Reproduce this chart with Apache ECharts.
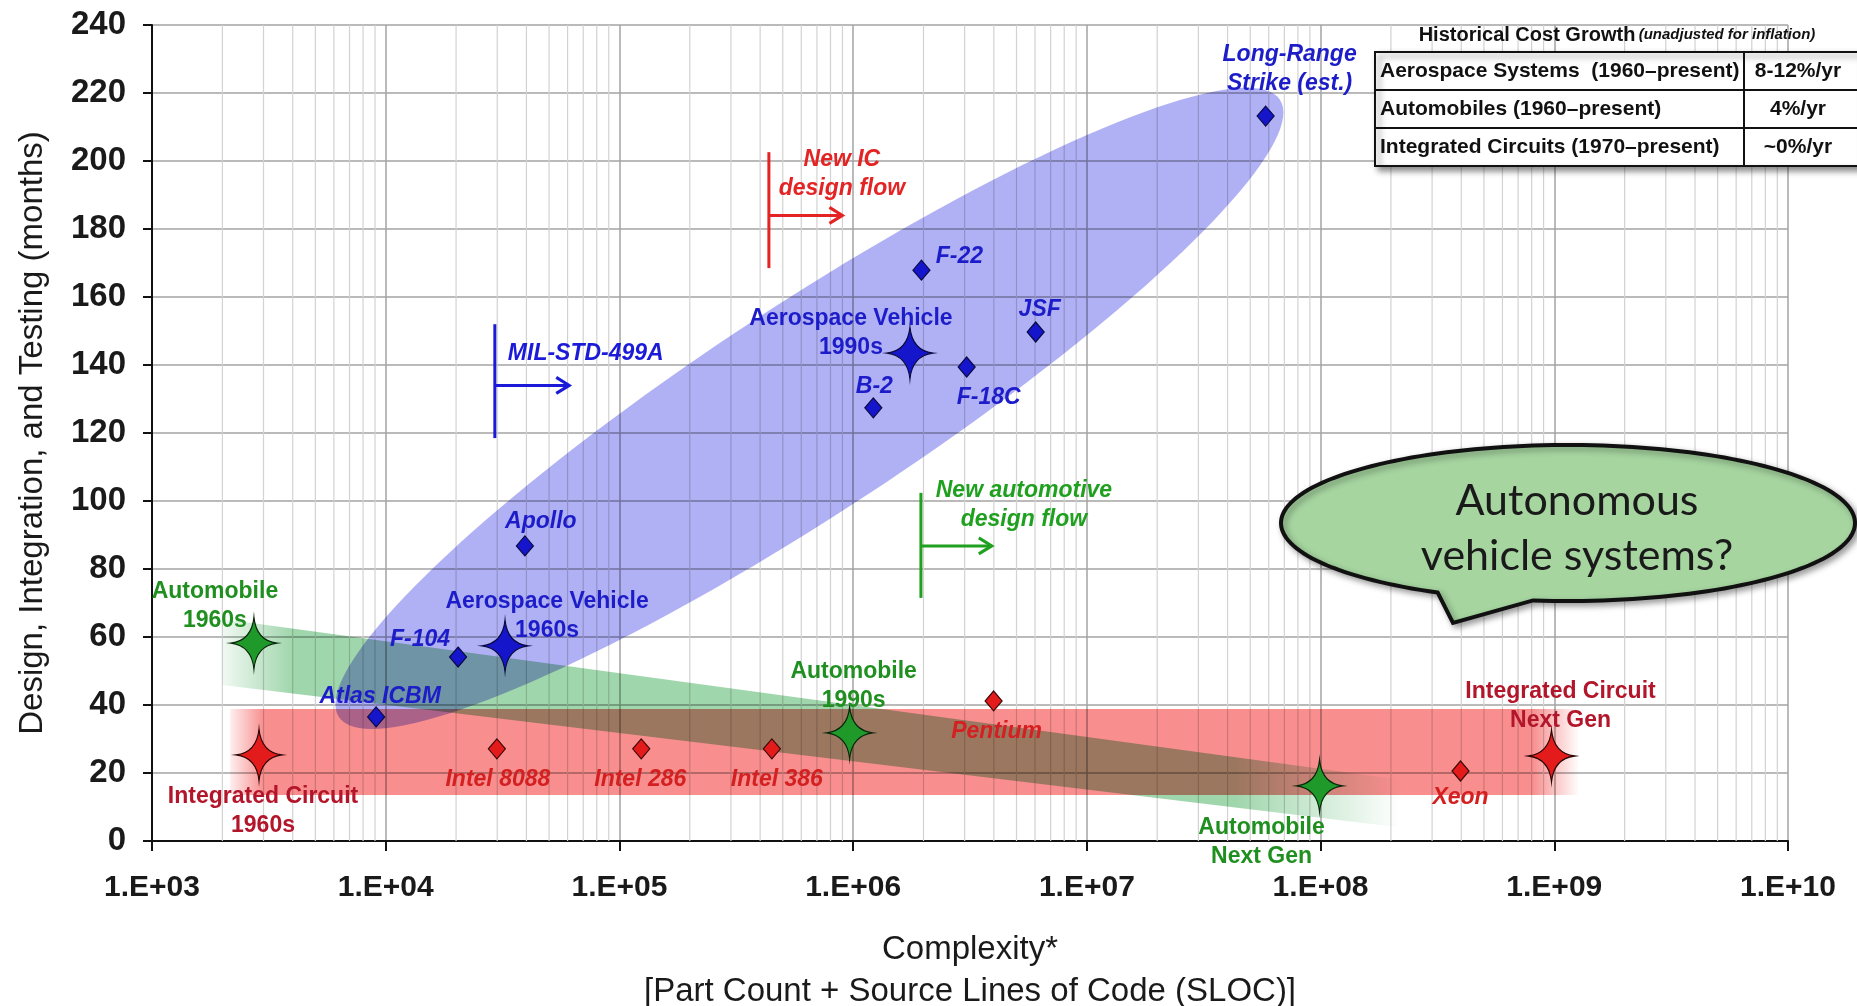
<!DOCTYPE html>
<html><head><meta charset="utf-8">
<script src="https://cdn.jsdelivr.net/npm/echarts@6/dist/echarts.min.js"></script>
<style>html,body{margin:0;padding:0;background:#fff}#c{width:1857px;height:1006px}</style>
</head><body><div id="c"></div><script>
// ---------------- DATA ----------------
const xTickLabels = ['1.E+03','1.E+04','1.E+05','1.E+06','1.E+07','1.E+08','1.E+09','1.E+10'];
const minorDecades = [1e3,1e4,1e5,1e6,1e7,1e8,1e9];
const minorMultipliers = [2,3,4,5,6,7,8,9];

const aeroNames = ['Atlas ICBM','F-104','Apollo','B-2','F-22','F-18C','JSF','Long-Range\nStrike (est.)'];
const aeroX = [9.1e3, 2.04e4, 3.94e4, 1.22e6, 1.96e6, 3.06e6, 6.04e6, 5.82e7];
const aeroY = [36.5, 54.1, 86.8, 127.4, 167.9, 139.4, 149.7, 213.2];

const aeroEraNames = ['Aerospace Vehicle\n1960s','Aerospace Vehicle\n1990s'];
const aeroEraX = [3.24e4, 1.75e6];
const aeroEraY = [57.4, 143.5];

const chipNames = ['Intel 8088','Intel 286','Intel 386','Pentium','Xeon'];
const chipX = [2.99e4, 1.24e5, 4.49e5, 3.99e6, 3.97e8];
const chipY = [27.1, 27.1, 27.1, 41.2, 20.6];

const icEraNames = ['Integrated Circuit\n1960s','Integrated Circuit\nNext Gen'];
const icEraX = [2.87e3, 9.73e8];
const icEraY = [25.3, 25.0];

const autoNames = ['Automobile\n1960s','Automobile\n1990s','Automobile\nNext Gen'];
const autoX = [2.73e3, 9.66e5, 9.9e7];
const autoY = [58.2, 31.8, 16.2];

// shaded regions (data coordinates)
const aeroEllipseEnds = [6.3e3, 36.5, 6.7e7, 218];            // tip A (x,y), tip B (x,y)
const icBand = [2.16e3, 13.5, 1.28e9, 38.8];                   // x0,y0,x1,y1
const autoBand = [2.0e3, 65.3, 2.2e8, 18, 2.2e8, 4, 2.0e3, 45.9]; // 4 corners

// design-flow markers
const flowNames = ['MIL-STD-499A','New IC\ndesign flow','New automotive\ndesign flow'];
const flowX = [2.93e4, 4.36e5, 1.95e6];
const flowYLow = [118.5, 168.5, 71.5];
const flowYHigh = [152, 202.6, 102.4];
const flowYArrow = [134, 184, 86.8];
const flowXArrowEnd = [6.1e4, 9.0e5, 3.92e6];

// table & callout text
const tableTitle = 'Historical Cost Growth';
const tableSubtitle = '(unadjusted for inflation)';
const tableRows = ['Aerospace Systems  (1960\u2013present)','Automobiles (1960\u2013present)','Integrated Circuits (1970\u2013present)'];
const tableRates = ['8-12%/yr','4%/yr','~0%/yr'];
const calloutText = 'Autonomous\nvehicle systems?';
const yAxisTitle = 'Design, Integration, and Testing (months)';
const xAxisTitle = 'Complexity*\n[Part Count + Source Lines of Code (SLOC)]';

// ---------------- STYLE ----------------
const FONT = '"Liberation Sans", Arial, sans-serif';
const BLUE = '#1c1cc8', BLUE_FILL = '#1515cc';
const RED = '#d42020', RED_DARK = '#b3152a', RED_FILL = '#e41b1b';
const GREEN = '#1f8f1f', GREEN_FILL = '#1f9a2a';
const RED_BAND = '248,142,142', GREEN_BAND = '160,214,172';
const flowColors = ['#1a1ad8', '#e42424', '#1fa01f'];
const flowText = [{dx:13, dy:29, align:'left'}, {dx:73, dy:22, align:'center'}, {dx:103, dy:12, align:'center'}];
const labelPlacement = {
  'Atlas ICBM':[4,-20], 'F-104':[-38,-17], 'Apollo':[16,-24], 'B-2':[1,-21], 'F-22':[38,-13],
  'F-18C':[22,31], 'JSF':[4,-22], 'Long-Range\nStrike (est.)':[24,-47],
  'Aerospace Vehicle\n1960s':[42,-30], 'Aerospace Vehicle\n1990s':[-59,-20],
  'Intel 8088':[1,31], 'Intel 286':[-1,31], 'Intel 386':[5,31], 'Pentium':[3,31], 'Xeon':[0,27],
  'Integrated Circuit\n1960s':[4,56], 'Integrated Circuit\nNext Gen':[9,-50],
  'Automobile\n1960s':[-39,-37], 'Automobile\n1990s':[4,-47], 'Automobile\nNext Gen':[-58,56]
};
const STAR = 'path://M0,-50 Q5,-5 50,0 Q5,5 0,50 Q-5,5 -50,0 Q-5,-5 0,-50 Z';
const ELLIPSE_HALF_WIDTH = 104;

function pts(names, xs, ys) {
  return names.map((n, i) => ({ name: n, value: [xs[i], ys[i]], label: { offset: labelPlacement[n] } }));
}
function lbl(color, italic) {
  return { show: true, position: 'inside', formatter: '{b}', color: color, fontFamily: FONT,
    fontWeight: 'bold', fontStyle: italic ? 'italic' : 'normal', fontSize: 23, lineHeight: 29,
    align: 'center', verticalAlign: 'middle', textBorderWidth: 0 };
}
function fade(rgb, a, b) {
  return new echarts.graphic.LinearGradient(0, 0, 1, 0, [
    { offset: 0, color: 'rgba(' + rgb + ',0.15)' }, { offset: a, color: 'rgba(' + rgb + ',1)' },
    { offset: b, color: 'rgba(' + rgb + ',1)' }, { offset: 1, color: 'rgba(' + rgb + ',0)' }]);
}

const minorValues = [];
minorDecades.forEach(d => minorMultipliers.forEach(m => minorValues.push([d * m])));

const chart = echarts.init(document.getElementById('c'), null, { renderer: 'canvas' });

const option = {
  backgroundColor: '#ffffff',
  animation: false,
  grid: { left: 152, right: 69, top: 25, bottom: 165, containLabel: false, outerBoundsMode: 'none' },
  xAxis: {
    type: 'log', logBase: 10, min: 1e3, max: 1e10, splitNumber: 7,
    name: xAxisTitle, nameLocation: 'middle', nameGap: 88,
    nameTextStyle: { fontFamily: FONT, fontSize: 33, lineHeight: 42, color: '#1a1a1a' },
    axisLine: { lineStyle: { color: '#111', width: 2 } },
    axisTick: { show: true, length: 10, lineStyle: { color: '#111', width: 2 } },
    axisLabel: { margin: 32, fontFamily: FONT, fontWeight: 'bold', fontSize: 30, color: '#1a1a1a',
      formatter: v => xTickLabels[Math.round(Math.log10(v)) - 3] },
    splitLine: { show: true, lineStyle: { color: '#a3a3a3', width: 1.5 } }
  },
  yAxis: {
    type: 'value', min: 0, max: 240, interval: 20,
    name: yAxisTitle, nameLocation: 'middle', nameGap: 103, nameRotate: 90,
    nameTextStyle: { fontFamily: FONT, fontSize: 33, color: '#1a1a1a' },
    axisLine: { show: true, lineStyle: { color: '#111', width: 2 } },
    axisTick: { show: true, length: 9, lineStyle: { color: '#111', width: 2 } },
    axisLabel: { margin: 26, fontFamily: FONT, fontWeight: 'bold', fontSize: 33, color: '#1a1a1a' },
    splitLine: { show: true, lineStyle: { color: '#a3a3a3', width: 1.5 } }
  },
  series: [
    { // minor log gridlines
      type: 'custom', z: 1, silent: true, data: minorValues, encode: { x: 0 },
      renderItem: (p, api) => {
        const a = api.coord([api.value(0), 0]), b = api.coord([api.value(0), 240]);
        return { type: 'line', shape: { x1: a[0], y1: a[1], x2: b[0], y2: b[1] },
          style: { stroke: '#d2d2d2', lineWidth: 1.2 } };
      }
    },
    { // integrated circuit band
      type: 'custom', z: 2, silent: true, blendMode: 'multiply', data: [icBand], encode: { x: [0, 2], y: [1, 3] },
      renderItem: (p, api) => {
        const a = api.coord([api.value(0), api.value(1)]), b = api.coord([api.value(2), api.value(3)]);
        return { type: 'polygon', shape: { points: [[a[0], a[1]], [b[0], a[1]], [b[0], b[1]], [a[0], b[1]]] },
          style: { fill: fade(RED_BAND, 0.025, 0.965) } };
      }
    },
    { // automobile band
      type: 'custom', z: 3, silent: true, blendMode: 'multiply', data: [autoBand], encode: { x: [0, 2, 4, 6], y: [1, 3, 5, 7] },
      renderItem: (p, api) => {
        const pp = [];
        for (let k = 0; k < 4; k++) pp.push(api.coord([api.value(2 * k), api.value(2 * k + 1)]));
        return { type: 'polygon', shape: { points: pp }, style: { fill: fade(GREEN_BAND, 0.06, 0.86) } };
      }
    },
    { // aerospace ellipse
      type: 'custom', z: 4, silent: true, blendMode: 'multiply', data: [aeroEllipseEnds], encode: { x: [0, 2], y: [1, 3] },
      renderItem: (p, api) => {
        const a = api.coord([api.value(0), api.value(1)]), b = api.coord([api.value(2), api.value(3)]);
        const cx = (a[0] + b[0]) / 2, cy = (a[1] + b[1]) / 2;
        const A = Math.hypot(b[0] - a[0], b[1] - a[1]) / 2, B = ELLIPSE_HALF_WIDTH;
        const ang = Math.atan2(b[1] - a[1], b[0] - a[0]);
        const ca = Math.cos(ang), sa = Math.sin(ang), poly = [];
        for (let k = 0; k < 160; k++) {
          const t = k / 160 * Math.PI * 2, ex = A * Math.cos(t), ey = B * Math.sin(t);
          poly.push([cx + ex * ca - ey * sa, cy + ex * sa + ey * ca]);
        }
        return { type: 'polygon', shape: { points: poly }, style: { fill: '#b0b0f5' } };
      }
    },
    { // design flow markers
      type: 'custom', z: 6, silent: true,
      data: flowX.map((x, i) => [x, flowYLow[i], flowYHigh[i], flowYArrow[i], flowXArrowEnd[i]]),
      encode: { x: [0, 4], y: [1, 2, 3] },
      renderItem: (p, api) => {
        const i = p.dataIndex, c = flowColors[i], t = flowText[i];
        const top = api.coord([api.value(0), api.value(2)]), bot = api.coord([api.value(0), api.value(1)]);
        const a0 = api.coord([api.value(0), api.value(3)]), a1 = api.coord([api.value(4), api.value(3)]);
        return { type: 'group', children: [
          { type: 'line', shape: { x1: top[0], y1: top[1], x2: bot[0], y2: bot[1] }, style: { stroke: c, lineWidth: 3 } },
          { type: 'line', shape: { x1: a0[0], y1: a0[1], x2: a1[0] - 2, y2: a1[1] }, style: { stroke: c, lineWidth: 3 } },
          { type: 'polyline', shape: { points: [[a1[0] - 13, a1[1] - 8], [a1[0], a1[1]], [a1[0] - 13, a1[1] + 8]] },
            style: { stroke: c, lineWidth: 3, fill: null } },
          { type: 'text', x: top[0] + t.dx, y: top[1] + t.dy,
            style: { text: flowNames[i], fill: c, fontFamily: FONT, fontWeight: 'bold', fontStyle: 'italic',
              fontSize: 23, lineHeight: 29, align: t.align, verticalAlign: 'middle' } }
        ] };
      }
    },
    { type: 'scatter', z: 10, symbol: 'diamond', symbolSize: [17, 20],
      itemStyle: { color: BLUE_FILL, borderColor: '#0a0a40', borderWidth: 1.2, opacity: 1 },
      label: lbl(BLUE, true), data: pts(aeroNames, aeroX, aeroY) },
    { type: 'scatter', z: 10, symbol: STAR, symbolSize: [46, 52],
      itemStyle: { color: BLUE_FILL, borderColor: '#0a0a40', borderWidth: 1.2, opacity: 1 },
      label: lbl(BLUE, false), data: pts(aeroEraNames, aeroEraX, aeroEraY) },
    { type: 'scatter', z: 10, symbol: 'diamond', symbolSize: [17, 20],
      itemStyle: { color: RED_FILL, borderColor: '#3a0808', borderWidth: 1.2, opacity: 1 },
      label: lbl(RED, true), data: pts(chipNames, chipX, chipY) },
    { type: 'scatter', z: 10, symbol: STAR, symbolSize: [46, 52],
      itemStyle: { color: RED_FILL, borderColor: '#2a0505', borderWidth: 1.2, opacity: 1 },
      label: lbl(RED_DARK, false), data: pts(icEraNames, icEraX, icEraY) },
    { type: 'scatter', z: 10, symbol: STAR, symbolSize: [46, 52],
      itemStyle: { color: GREEN_FILL, borderColor: '#0a250a', borderWidth: 1.2, opacity: 1 },
      label: lbl(GREEN, false), data: pts(autoNames, autoX, autoY) }
  ],
  graphic: []
};

// ---- table (annotation) ----
const TB = { left: 1375, right: 1860, top: 52, rowH: 38, col: 1744 };
const tb = [];
tb.push({ type: 'rect', z: 20, shape: { x: TB.left, y: TB.top, width: TB.right - TB.left, height: TB.rowH * 3 },
  style: { fill: '#fff', stroke: '#111', lineWidth: 2, shadowBlur: 6, shadowOffsetX: 4, shadowOffsetY: 4, shadowColor: 'rgba(0,0,0,0.45)' } });
for (let r = 1; r < 3; r++) tb.push({ type: 'line', z: 21, shape: { x1: TB.left, y1: TB.top + r * TB.rowH, x2: TB.right, y2: TB.top + r * TB.rowH }, style: { stroke: '#111', lineWidth: 2 } });
tb.push({ type: 'line', z: 21, shape: { x1: TB.col, y1: TB.top, x2: TB.col, y2: TB.top + 3 * TB.rowH }, style: { stroke: '#111', lineWidth: 2 } });
tableRows.forEach((t, r) => {
  tb.push({ type: 'text', z: 22, x: TB.left + 5, y: TB.top + r * TB.rowH + TB.rowH / 2,
    style: { text: t, fill: '#111', fontFamily: FONT, fontWeight: 'bold', fontSize: 21, align: 'left', verticalAlign: 'middle' } });
  tb.push({ type: 'text', z: 22, x: 1798, y: TB.top + r * TB.rowH + TB.rowH / 2,
    style: { text: tableRates[r], fill: '#111', fontFamily: FONT, fontWeight: 'bold', fontSize: 21, align: 'center', verticalAlign: 'middle' } });
});
tb.push({ type: 'text', z: 22, x: 1617, y: 35,
  style: { text: '{a|' + tableTitle + '} {b|' + tableSubtitle + '}', align: 'center', verticalAlign: 'middle',
    rich: { a: { fontFamily: FONT, fontWeight: 'bold', fontSize: 20, fill: '#111', color: '#111' },
            b: { fontFamily: FONT, fontStyle: 'italic', fontWeight: 'bold', fontSize: 15, fill: '#111', color: '#111' } } } });

// ---- callout bubble (annotation) ----
const CB = { cx: 1568, cy: 523, rx: 287, ry: 78, tip: [1453, 623], a0: 97, a1: 117 };
const bubble = [];
for (let d = CB.a1; d <= CB.a0 + 360; d += 2) {
  const t = d * Math.PI / 180;
  bubble.push([CB.cx + CB.rx * Math.cos(t), CB.cy + CB.ry * Math.sin(t)]);
}
bubble.push(CB.tip);
tb.push({ type: 'polygon', z: 30, shape: { points: bubble },
  style: { fill: '#a6d5a0', stroke: '#111', lineWidth: 4, shadowBlur: 6, shadowOffsetX: 3, shadowOffsetY: 3, shadowColor: 'rgba(0,0,0,0.35)' } });
tb.push({ type: 'text', z: 31, x: 1577, y: 529,
  style: { text: calloutText, fill: '#1a1a1a', fontFamily: 'Lato, "Open Sans", sans-serif', fontSize: 43, lineHeight: 55,
    align: 'center', verticalAlign: 'middle' } });

option.graphic = tb;
chart.setOption(option);
</script></body></html>
